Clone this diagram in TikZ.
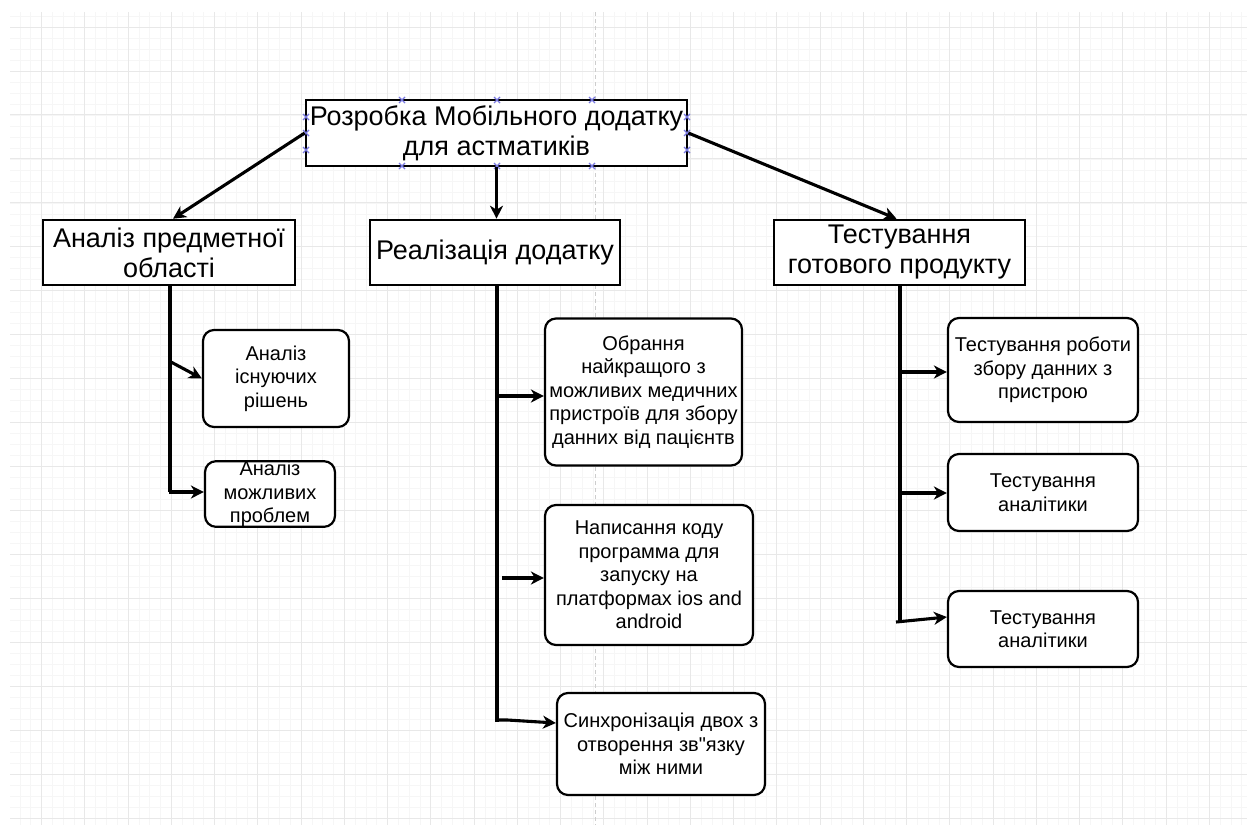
\documentclass[tikz,border=0pt]{standalone}
\usepackage{fontspec}
\setmainfont{Liberation Sans}[Ligatures=TeXOff]
\usetikzlibrary{arrows.meta,calc}
\definecolor{gridminor}{RGB}{246,246,246}
\definecolor{gridmajor}{RGB}{232,232,232}
\definecolor{pageline}{RGB}{205,205,205}
\definecolor{handleblue}{RGB}{120,120,225}
\begin{document}
\begin{tikzpicture}[x=1pt,y=-1pt,
  head/.style={draw=black, line width=2.6pt, fill=white, align=center, inner sep=0pt,
    font=\fontsize{27}{30}\selectfont},
  leaf/.style={draw=black, line width=2.2pt, fill=white, rounded corners=11pt, align=center,
    inner sep=0pt, font=\fontsize{20}{23.5}\selectfont},
  link/.style={line width=3.1pt, -{Stealth[length=13pt,width=13pt,inset=4pt]}},
  trunk/.style={line width=3.1pt},
  handle/.style={draw=handleblue, line width=1.1pt},
]
% canvas
\useasboundingbox (0,0) rectangle (1247,825);
\fill[white] (0,0) rectangle (1247,825);
\begin{scope}
  \clip (10,12) rectangle (1247,825);
  \foreach \i in {0,...,114} {
    \draw[gridminor, line width=0.6pt] ({9.06+\i*10.8125},12) -- ({9.06+\i*10.8125},825);
  }
  \foreach \i in {0,...,74} {
    \draw[gridminor, line width=0.6pt] (10,{16.1+\i*10.985}) -- (1247,{16.1+\i*10.985});
  }
  \foreach \j in {-1,...,28} {
    \draw[gridmajor, line width=0.9pt] ({41.5+\j*43.25},12) -- ({41.5+\j*43.25},825);
  }
  \foreach \j in {0,...,18} {
    \draw[gridmajor, line width=0.9pt] (10,{27.06+\j*43.94}) -- (1247,{27.06+\j*43.94});
  }
  \draw[pageline, line width=0.6pt, dash pattern=on 4pt off 3pt] (595,12) -- (595,825);
\end{scope}

% main topic
\node[head, minimum width=381pt, minimum height=66pt] (top) at (496.5,133)
  {Розробка Мобільного додатку\\для астматиків};

% first level
\node[head, minimum width=252pt, minimum height=65pt] (a1) at (169,252.5)
  {Аналіз предметної\\області};
\node[head, minimum width=250pt, minimum height=65pt] (a2) at (495,252.5)
  {Реалізація додатку};
\node[head, minimum width=251pt, minimum height=65pt] (a3) at (899.5,252.5)
  {Тестування\\готового продукту};

% second level
\node[leaf, minimum width=146pt, minimum height=97pt] (b1) at (276,378.5)
  {Аналіз\\існуючих\\рішень};
\node[leaf, minimum width=130pt, minimum height=65pt] (b2) at (270,494)
  {Аналіз\\можливих\\проблем};
\node[leaf, minimum width=197pt, minimum height=147pt] (c1) at (643.5,392)
  {Обрання\\найкращого з\\можливих медичних\\пристроїв для збору\\данних від пацієнтв};
\node[leaf, minimum width=208pt, minimum height=140pt] (c2) at (649,575)
  {Написання коду\\программа для\\запуску на\\платформах ios and\\android};
\node[leaf, minimum width=208pt, minimum height=102pt] (c3) at (661,744)
  {Синхронізація двох з\\отворення зв"язку\\між ними};
\node[leaf, minimum width=190pt, minimum height=104pt] (d1) at (1043,370)
  {Тестування роботи\\збору данних з\\пристрою};
\node[leaf, minimum width=190pt, minimum height=77pt] (d2) at (1043,492.5)
  {Тестування\\аналітики};
\node[leaf, minimum width=190pt, minimum height=76pt] (d3) at (1043,629)
  {Тестування\\аналітики};

% selection handles on the main topic
\foreach \hx in {402,497,592} {
  \draw[handle] (\hx-3,97) -- (\hx+3,103) (\hx-3,103) -- (\hx+3,97);
  \draw[handle] (\hx-3,163) -- (\hx+3,169) (\hx-3,169) -- (\hx+3,163);
}
\foreach \hy in {117,133,150} {
  \draw[handle] (303,\hy-3) -- (309,\hy+3) (303,\hy+3) -- (309,\hy-3);
  \draw[handle] (684,\hy-3) -- (690,\hy+3) (684,\hy+3) -- (690,\hy-3);
}

% links from the main topic
\draw[link] (top.west) -- ($(a1.north)+(4,0)$);
\draw[link] (top.south) -- (top.south |- a2.north);
\draw[link] (top.east) -- ($(a3.north)+(-3,0)$);

% left branch
\coordinate (l0) at (170,492);
\coordinate (l1) at (171,362);
\draw[trunk] (a1.south -| l0) -- (l0);
\draw[link] (l1) -- (b1.west);
\draw[link] ($(l0)+(-1.5,0)$) -- (l0 -| b2.west);

% middle branch
\coordinate (m0) at (497,720);
\coordinate (m1) at (497,396);
\coordinate (m2) at (502,578);
\draw[trunk] (a2.south -| m0) -- ($(m0)+(0,1.5)$);
\draw[link] (m1) -- (m1 -| c1.west);
\draw[link] (m2) -- (m2 -| c2.west);
\draw[link] ($(m0)+(-1.5,0)$) -- ++(12,0) -- (c3.west |- 0,723);

% right branch
\coordinate (r0) at (900,622);
\coordinate (r1) at (900,372);
\coordinate (r2) at (900,493);
\draw[trunk] (a3.south -| r0) -- (r0);
\draw[link] (r1) -- (r1 -| d1.west);
\draw[link] (r2) -- (r2 -| d2.west);
\draw[link] (896,622) -- (d3.west |- 0,617);
\end{tikzpicture}
\end{document}
